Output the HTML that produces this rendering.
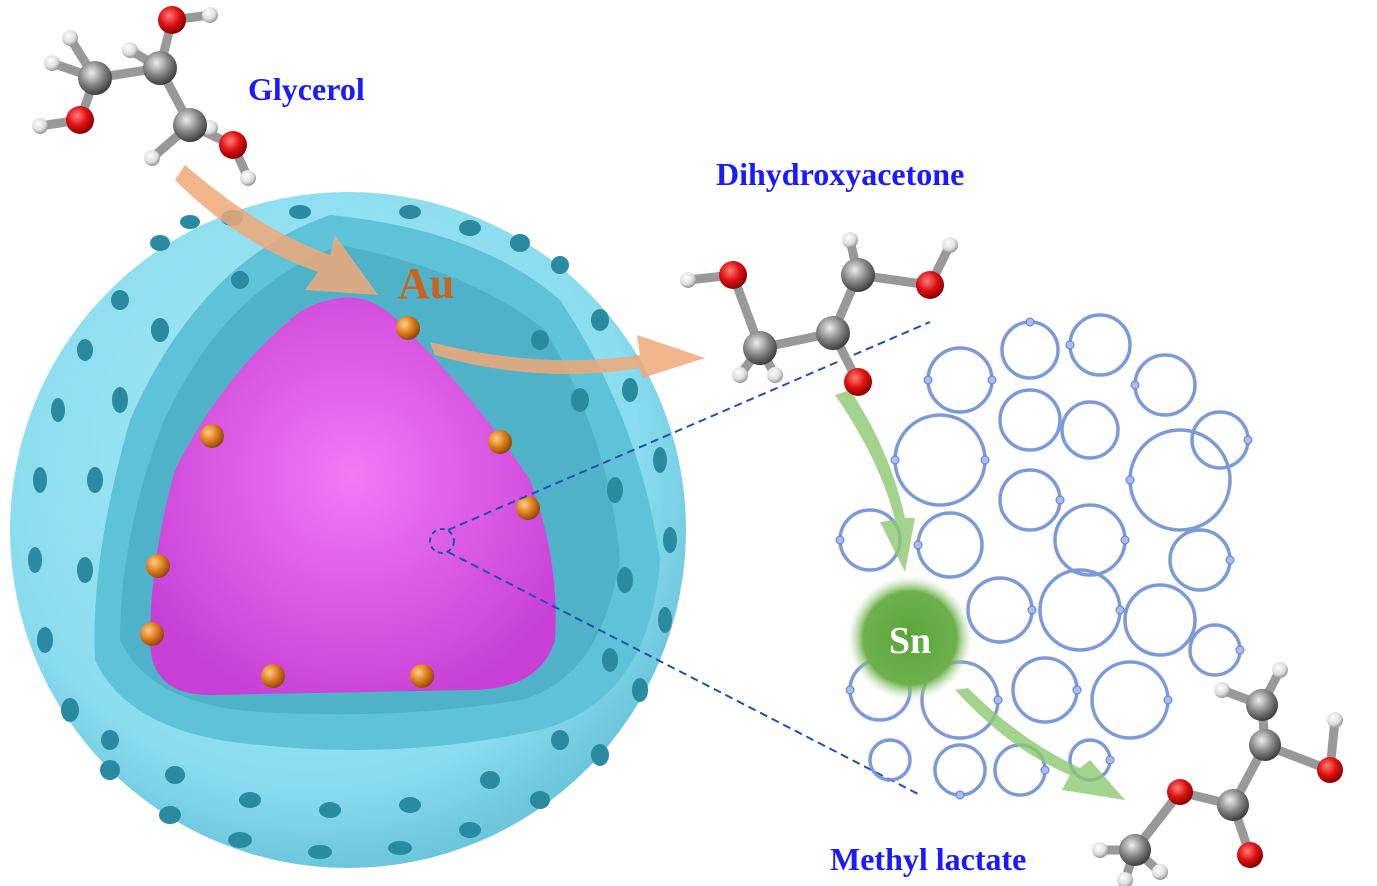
<!DOCTYPE html>
<html><head><meta charset="utf-8"><style>
html,body{margin:0;padding:0;background:#fff;width:1377px;height:886px;overflow:hidden}
svg{display:block}
.t{font-family:"Liberation Serif",serif;font-weight:bold;fill:#1a1aff}
</style></head><body>
<svg width="1377" height="886" viewBox="0 0 1377 886">
<defs>
<radialGradient id="sph" cx="0.45" cy="0.4" r="0.6">
<stop offset="0" stop-color="#a6ecf8"/><stop offset="0.8" stop-color="#8adcee"/><stop offset="1" stop-color="#6cc6dc"/></radialGradient>
<radialGradient id="mag" cx="0.5" cy="0.45" r="0.6">
<stop offset="0" stop-color="#f07af4"/><stop offset="1" stop-color="#c840d6"/></radialGradient>
<radialGradient id="au" cx="0.35" cy="0.35" r="0.7"><stop offset="0" stop-color="#ffd08a"/><stop offset="0.5" stop-color="#e08020"/><stop offset="1" stop-color="#8a4408"/></radialGradient>
<radialGradient id="gr" cx="0.4" cy="0.35" r="0.7"><stop offset="0" stop-color="#eee"/><stop offset="0.5" stop-color="#888"/><stop offset="1" stop-color="#333"/></radialGradient>
<radialGradient id="rd" cx="0.4" cy="0.35" r="0.7"><stop offset="0" stop-color="#ff8080"/><stop offset="0.5" stop-color="#e01010"/><stop offset="1" stop-color="#700"/></radialGradient>
<radialGradient id="wh" cx="0.4" cy="0.35" r="0.7"><stop offset="0" stop-color="#fff"/><stop offset="0.6" stop-color="#ddd"/><stop offset="1" stop-color="#888"/></radialGradient>
<radialGradient id="sn" cx="0.5" cy="0.5" r="0.5"><stop offset="0" stop-color="#5aa63a"/><stop offset="0.75" stop-color="#6cb04c"/><stop offset="1" stop-color="#b8dca8" stop-opacity="0"/></radialGradient>
</defs>

<circle cx="348" cy="530" r="338" fill="url(#sph)"/>
<path d="M330 215 Q480 230 560 300 Q640 420 660 560 Q650 700 540 730 Q400 760 260 745 Q130 735 95 660 Q90 560 130 420 Q200 260 330 215 Z" fill="#5ec3d8"/>
<path d="M340 245 Q470 270 545 330 Q610 440 620 560 Q600 680 520 700 Q400 720 260 712 Q150 705 120 640 Q120 540 160 430 Q220 290 340 245 Z" fill="#4fb2c8"/>
<path d="M330 300 Q365 290 395 318 Q470 390 530 480 Q560 560 555 640 Q540 690 470 690 L210 695 Q150 695 150 640 Q150 560 175 470 Q220 380 290 320 Q305 305 330 300 Z" fill="url(#mag)"/>
<g fill="#2a8aa0">
<ellipse cx="232" cy="218" rx="11" ry="8"/><ellipse cx="300" cy="212" rx="11" ry="7"/><ellipse cx="410" cy="212" rx="11" ry="7"/><ellipse cx="470" cy="228" rx="11" ry="8"/><ellipse cx="520" cy="243" rx="10" ry="9"/>
<ellipse cx="160" cy="243" rx="10" ry="8"/><ellipse cx="190" cy="222" rx="10" ry="7"/><ellipse cx="560" cy="265" rx="9" ry="9"/>
<ellipse cx="120" cy="300" rx="9" ry="10"/><ellipse cx="85" cy="350" rx="8" ry="11"/><ellipse cx="58" cy="410" rx="7" ry="12"/><ellipse cx="40" cy="480" rx="7" ry="13"/><ellipse cx="35" cy="560" rx="7" ry="13"/><ellipse cx="45" cy="640" rx="8" ry="13"/><ellipse cx="70" cy="710" rx="9" ry="12"/><ellipse cx="110" cy="770" rx="10" ry="10"/><ellipse cx="170" cy="815" rx="11" ry="9"/><ellipse cx="240" cy="840" rx="12" ry="8"/><ellipse cx="320" cy="852" rx="12" ry="7"/><ellipse cx="400" cy="848" rx="12" ry="7"/><ellipse cx="470" cy="830" rx="11" ry="8"/><ellipse cx="540" cy="800" rx="10" ry="9"/><ellipse cx="600" cy="755" rx="9" ry="11"/><ellipse cx="640" cy="690" rx="8" ry="12"/><ellipse cx="665" cy="620" rx="7" ry="13"/><ellipse cx="670" cy="540" rx="7" ry="13"/><ellipse cx="660" cy="460" rx="7" ry="13"/><ellipse cx="630" cy="390" rx="8" ry="12"/><ellipse cx="600" cy="320" rx="9" ry="11"/>
<ellipse cx="160" cy="330" rx="9" ry="12"/><ellipse cx="120" cy="400" rx="8" ry="13"/><ellipse cx="95" cy="480" rx="8" ry="13"/><ellipse cx="85" cy="570" rx="8" ry="13"/><ellipse cx="110" cy="740" rx="9" ry="10"/><ellipse cx="175" cy="775" rx="10" ry="9"/><ellipse cx="250" cy="800" rx="11" ry="8"/><ellipse cx="330" cy="810" rx="11" ry="8"/><ellipse cx="410" cy="805" rx="11" ry="8"/><ellipse cx="490" cy="780" rx="10" ry="9"/><ellipse cx="560" cy="740" rx="9" ry="10"/><ellipse cx="610" cy="660" rx="8" ry="12"/><ellipse cx="625" cy="580" rx="8" ry="13"/><ellipse cx="615" cy="490" rx="8" ry="13"/><ellipse cx="580" cy="400" rx="9" ry="12"/><ellipse cx="540" cy="340" rx="9" ry="10"/><ellipse cx="240" cy="280" rx="9" ry="9"/>
</g>
<g fill="url(#au)">
<circle cx="408" cy="328" r="12"/><circle cx="212" cy="436" r="12"/><circle cx="500" cy="442" r="12"/><circle cx="528" cy="508" r="12"/><circle cx="158" cy="566" r="12"/><circle cx="152" cy="634" r="12"/><circle cx="273" cy="676" r="12"/><circle cx="422" cy="676" r="12"/>
</g>
<circle cx="442" cy="541" r="12" fill="none" stroke="#2050b0" stroke-width="2" stroke-dasharray="5,4"/>
<line x1="448" y1="530" x2="930" y2="322" stroke="#2050b0" stroke-width="2" stroke-dasharray="8,5"/>
<line x1="448" y1="552" x2="920" y2="795" stroke="#2050b0" stroke-width="2" stroke-dasharray="8,5"/>

<g fill="none" stroke="#7090d4" stroke-width="3.5" opacity="0.9">
<circle cx="960" cy="380" r="32"/><circle cx="1030" cy="350" r="28"/><circle cx="1100" cy="345" r="30"/><circle cx="1165" cy="385" r="30"/><circle cx="1220" cy="440" r="28"/>
<circle cx="940" cy="460" r="45"/><circle cx="1030" cy="420" r="30"/><circle cx="1090" cy="430" r="28"/><circle cx="1180" cy="480" r="50"/>
<circle cx="870" cy="540" r="30"/><circle cx="950" cy="545" r="32"/><circle cx="1030" cy="500" r="30"/><circle cx="1090" cy="540" r="35"/><circle cx="1200" cy="560" r="30"/>
<circle cx="1000" cy="610" r="32"/><circle cx="1080" cy="610" r="40"/><circle cx="1160" cy="620" r="35"/><circle cx="1215" cy="650" r="25"/>
<circle cx="880" cy="690" r="30"/><circle cx="960" cy="700" r="38"/><circle cx="1045" cy="690" r="32"/><circle cx="1130" cy="700" r="38"/>
<circle cx="960" cy="770" r="25"/><circle cx="1020" cy="770" r="25"/><circle cx="1090" cy="760" r="20"/><circle cx="890" cy="760" r="20"/>
</g>
<g fill="#a8bef0" stroke="#5a7ac8" stroke-width="1">
<circle cx="928" cy="380" r="4"/><circle cx="992" cy="380" r="4"/><circle cx="1030" cy="322" r="4"/><circle cx="1070" cy="345" r="4"/><circle cx="1135" cy="385" r="4"/><circle cx="1248" cy="440" r="4"/><circle cx="1130" cy="480" r="4"/><circle cx="985" cy="460" r="4"/><circle cx="895" cy="460" r="4"/><circle cx="840" cy="540" r="4"/><circle cx="918" cy="545" r="4"/><circle cx="1060" cy="500" r="4"/><circle cx="1230" cy="560" r="4"/><circle cx="1125" cy="540" r="4"/><circle cx="1032" cy="610" r="4"/><circle cx="1120" cy="610" r="4"/><circle cx="1240" cy="650" r="4"/><circle cx="850" cy="690" r="4"/><circle cx="998" cy="700" r="4"/><circle cx="1077" cy="690" r="4"/><circle cx="1168" cy="700" r="4"/><circle cx="960" cy="795" r="4"/><circle cx="1045" cy="770" r="4"/><circle cx="1110" cy="760" r="4"/>
</g>
<circle cx="910" cy="638" r="62" fill="url(#sn)"/>
<text x="910" y="653" text-anchor="middle" font-family="Liberation Serif,serif" font-weight="bold" font-size="38" fill="#fff">Sn</text>

<g fill="#f0a878" opacity="0.85">
<path d="M185 165 Q260 230 330 255 L335 235 L378 295 L305 290 L318 272 Q240 245 175 180 Z"/>
<path d="M430 342 Q540 370 640 355 L637 335 L705 358 L642 378 L640 368 Q540 385 435 355 Z"/>
</g>
<g fill="#8cc870" opacity="0.8">
<path d="M835 395 Q880 460 895 520 L880 522 L905 572 L915 518 L905 518 Q890 450 850 390 Z"/>
<path d="M955 690 Q1010 750 1070 775 L1062 790 L1125 800 L1090 760 L1080 768 Q1020 740 968 688 Z"/>
</g>

<g stroke="#999" stroke-width="9" stroke-linecap="round">
<line x1="95" y1="78" x2="160" y2="68"/><line x1="160" y1="68" x2="190" y2="125"/><line x1="95" y1="78" x2="80" y2="120"/><line x1="160" y1="68" x2="172" y2="20"/><line x1="190" y1="125" x2="233" y2="145"/>
<line x1="95" y1="78" x2="52" y2="63"/><line x1="95" y1="78" x2="70" y2="38"/><line x1="160" y1="68" x2="130" y2="50"/><line x1="190" y1="125" x2="152" y2="158"/><line x1="190" y1="125" x2="208" y2="128"/><line x1="80" y1="120" x2="40" y2="126"/><line x1="172" y1="20" x2="210" y2="15"/><line x1="233" y1="145" x2="248" y2="178"/>
</g>
<circle cx="52" cy="63" r="8" fill="url(#wh)"/><circle cx="70" cy="38" r="8" fill="url(#wh)"/><circle cx="130" cy="50" r="8" fill="url(#wh)"/><circle cx="152" cy="158" r="8" fill="url(#wh)"/><circle cx="210" cy="128" r="8" fill="url(#wh)"/><circle cx="40" cy="126" r="8" fill="url(#wh)"/><circle cx="210" cy="15" r="8" fill="url(#wh)"/><circle cx="248" cy="178" r="8" fill="url(#wh)"/>
<circle cx="95" cy="78" r="17" fill="url(#gr)"/><circle cx="160" cy="68" r="17" fill="url(#gr)"/><circle cx="190" cy="125" r="17" fill="url(#gr)"/>
<circle cx="80" cy="120" r="14" fill="url(#rd)"/><circle cx="172" cy="20" r="14" fill="url(#rd)"/><circle cx="233" cy="145" r="14" fill="url(#rd)"/>

<g stroke="#999" stroke-width="9" stroke-linecap="round">
<line x1="760" y1="348" x2="833" y2="333"/><line x1="833" y1="333" x2="858" y2="275"/><line x1="833" y1="333" x2="858" y2="382"/><line x1="760" y1="348" x2="733" y2="275"/><line x1="858" y1="275" x2="930" y2="285"/>
<line x1="733" y1="275" x2="688" y2="280"/><line x1="760" y1="348" x2="740" y2="375"/><line x1="760" y1="348" x2="775" y2="375"/><line x1="858" y1="275" x2="850" y2="240"/><line x1="930" y1="285" x2="950" y2="245"/>
</g>
<circle cx="688" cy="280" r="8" fill="url(#wh)"/><circle cx="740" cy="375" r="8" fill="url(#wh)"/><circle cx="775" cy="375" r="8" fill="url(#wh)"/><circle cx="850" cy="240" r="8" fill="url(#wh)"/><circle cx="950" cy="245" r="8" fill="url(#wh)"/>
<circle cx="760" cy="348" r="17" fill="url(#gr)"/><circle cx="833" cy="333" r="17" fill="url(#gr)"/><circle cx="858" cy="275" r="17" fill="url(#gr)"/>
<circle cx="733" cy="275" r="14" fill="url(#rd)"/><circle cx="930" cy="285" r="14" fill="url(#rd)"/><circle cx="858" cy="382" r="14" fill="url(#rd)"/>

<g stroke="#999" stroke-width="9" stroke-linecap="round">
<line x1="1135" y1="850" x2="1180" y2="792"/><line x1="1180" y1="792" x2="1233" y2="805"/><line x1="1233" y1="805" x2="1250" y2="855"/><line x1="1233" y1="805" x2="1265" y2="745"/><line x1="1265" y1="745" x2="1262" y2="705"/><line x1="1265" y1="745" x2="1330" y2="770"/>
<line x1="1135" y1="850" x2="1100" y2="850"/><line x1="1135" y1="850" x2="1125" y2="880"/><line x1="1135" y1="850" x2="1160" y2="872"/><line x1="1262" y1="705" x2="1222" y2="690"/><line x1="1262" y1="705" x2="1280" y2="670"/><line x1="1330" y1="770" x2="1335" y2="720"/>
</g>
<circle cx="1100" cy="850" r="8" fill="url(#wh)"/><circle cx="1125" cy="880" r="8" fill="url(#wh)"/><circle cx="1160" cy="872" r="8" fill="url(#wh)"/><circle cx="1222" cy="690" r="8" fill="url(#wh)"/><circle cx="1280" cy="670" r="8" fill="url(#wh)"/><circle cx="1335" cy="720" r="8" fill="url(#wh)"/>
<circle cx="1135" cy="850" r="16" fill="url(#gr)"/><circle cx="1233" cy="805" r="16" fill="url(#gr)"/><circle cx="1265" cy="745" r="16" fill="url(#gr)"/><circle cx="1262" cy="705" r="16" fill="url(#gr)"/>
<circle cx="1180" cy="792" r="13" fill="url(#rd)"/><circle cx="1250" cy="855" r="13" fill="url(#rd)"/><circle cx="1330" cy="770" r="13" fill="url(#rd)"/>

<text class="t" x="248" y="100" font-size="32">Glycerol</text>
<text class="t" x="716" y="185" font-size="32">Dihydroxyacetone</text>
<text class="t" x="830" y="870" font-size="32">Methyl lactate</text>
<text x="398" y="298" font-family="Liberation Serif,serif" font-weight="bold" font-size="44" fill="#c8641e">Au</text>
</svg>
</body></html>
